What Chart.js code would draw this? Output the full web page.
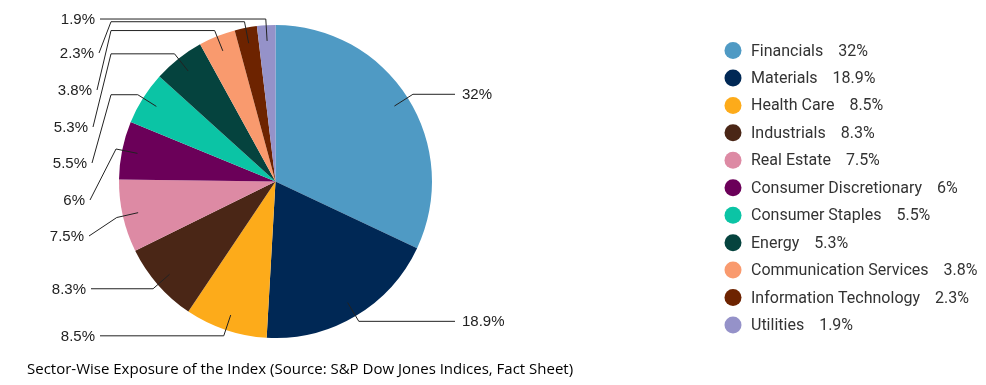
<!DOCTYPE html>
<html>
<head>
<meta charset="utf-8">
<script src="https://cdn.jsdelivr.net/npm/chart.js@4"></script>
<style>
  body { margin: 0; background: #fff; }
  #wrap { width: 986px; height: 385px; position: relative; }
</style>
</head>
<body>
<div id="wrap"><canvas id="myChart"></canvas></div>
<script>
// Sector weights (%)
const sectors = ['Financials', 'Materials', 'Health Care', 'Industrials', 'Real Estate',
  'Consumer Discretionary', 'Consumer Staples', 'Energy', 'Communication Services',
  'Information Technology', 'Utilities'];
const weights = [32, 18.9, 8.5, 8.3, 7.5, 6, 5.5, 5.3, 3.8, 2.3, 1.9];
const colors = ['#4f9ac4', '#002855', '#fdab1a', '#4a2616', '#dd8aa4', '#6b0059',
  '#0bc4a5', '#05433e', '#f99a6e', '#6d2300', '#9592c9'];
const caption = 'Sector-Wise Exposure of the Index (Source: S&P Dow Jones Indices, Fact Sheet)';

// callout layout (where each leader line ends up)
const calloutBendX = [null, null, null, null, null, null, 111, 111, 111, 111, null];
const calloutEndX = [455, 455, 100, 91, 89, 90, 92, 93, 97, 99, 100];
const calloutEndY = [null, null, null, null, 236, 200, 163, 127, 90, 53, null];

const fmt = v => v + '%';

// leader lines + labels
const callouts = {
  id: 'callouts',
  afterDraw(chart) {
    const ctx = chart.ctx;
    const meta = chart.getDatasetMeta(0);
    ctx.save();
    ctx.strokeStyle = '#222';
    ctx.lineWidth = 1;
    ctx.fillStyle = '#222';
    ctx.font = '15px "Liberation Sans", Arial, sans-serif';
    ctx.textBaseline = 'middle';
    meta.data.forEach((arc, i) => {
      const p = arc.getProps(['x', 'y', 'startAngle', 'endAngle', 'outerRadius'], true);
      const mid = (p.startAngle + p.endAngle) / 2;
      const x0 = p.x + Math.cos(mid) * p.outerRadius * 0.9;
      const y0 = p.y + Math.sin(mid) * p.outerRadius * 0.9;
      const x1 = p.x + Math.cos(mid) * p.outerRadius * 1.04;
      const y1 = p.y + Math.sin(mid) * p.outerRadius * 1.04;
      const ex = calloutEndX[i];
      const ey = calloutEndY[i] === null ? y1 : calloutEndY[i];
      ctx.beginPath();
      ctx.moveTo(x0, y0);
      ctx.lineTo(x1, y1);
      if (calloutBendX[i] !== null) ctx.lineTo(calloutBendX[i], y1);
      ctx.lineTo(ex, ey);
      ctx.stroke();
      const right = ex > p.x;
      ctx.textAlign = right ? 'left' : 'right';
      ctx.fillText(fmt(weights[i]), right ? ex + 7 : ex - 5, ey + 1);
    });

    // legend
    const lx = 733, ly = 50.5, step = 27.45;
    ctx.font = '16px Roboto, sans-serif';
    ctx.textAlign = 'left';
    sectors.forEach((s, i) => {
      const y = ly + i * step;
      ctx.fillStyle = colors[i];
      ctx.beginPath();
      ctx.arc(lx, y, 8.5, 0, Math.PI * 2);
      ctx.fill();
      ctx.fillStyle = '#333';
      ctx.fillText(s, 751, y + 1);
      const w = ctx.measureText(s).width;
      ctx.fillText(fmt(weights[i]), 751 + w + 15, y + 1);
    });

    // caption
    ctx.fillStyle = '#000';
    ctx.font = '15px "Open Sans", sans-serif';
    ctx.fillText(caption, 27, 370, 551);
    ctx.restore();
  }
};

new Chart(document.getElementById('myChart'), {
  type: 'pie',
  data: {
    labels: sectors,
    datasets: [{
      data: weights,
      backgroundColor: colors,
      borderWidth: 0
    }]
  },
  options: {
    responsive: true,
    maintainAspectRatio: false,
    animation: false,
    events: [],
    layout: { padding: { left: 119, right: 554, top: 25, bottom: 47 } },
    plugins: {
      legend: { display: false },
      tooltip: { enabled: false }
    }
  },
  plugins: [callouts]
});
</script>
</body>
</html>
